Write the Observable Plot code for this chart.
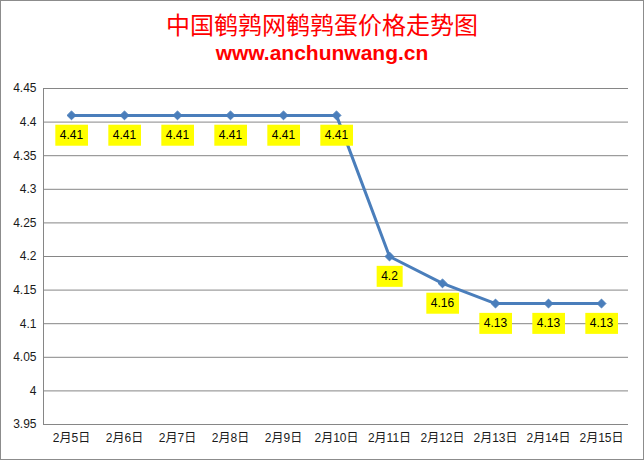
<!DOCTYPE html>
<html>
<head>
<meta charset="utf-8">
<script src="https://cdn.jsdelivr.net/npm/d3@7"></script>
<script src="https://cdn.jsdelivr.net/npm/@observablehq/plot@0.6"></script>
<style>
  html, body { margin: 0; padding: 0; background: #fff; }
  #box { position: relative; width: 644px; height: 460px; box-sizing: border-box; border: 1px solid #8c8c8c; background: #fff; overflow: hidden; }
  #title { position: absolute; left: 0; right: 0; top: 11px; text-align: center; color: #ff0000; font-family: "Noto Sans CJK SC", sans-serif; font-size: 24px; line-height: 24px; white-space: nowrap; }
  #sub { position: absolute; left: 0; right: 0; top: 40px; text-align: center; color: #ff0000; font-family: "Liberation Sans", Arial, sans-serif; font-weight: bold; font-size: 21px; line-height: 24px; white-space: nowrap; }
  #chart { position: absolute; left: 0; top: 79px; }
</style>
</head>
<body>
<div id="box">
  <div id="title">中国鹌鹑网鹌鹑蛋价格走势图</div>
  <div id="sub">www.anchunwang.cn</div>
  <div id="chart"></div>
</div>
<script>
const dates = ["2月5日","2月6日","2月7日","2月8日","2月9日","2月10日","2月11日","2月12日","2月13日","2月14日","2月15日"];
const prices = [4.41, 4.41, 4.41, 4.41, 4.41, 4.41, 4.2, 4.16, 4.13, 4.13, 4.13];
const yTicks = [3.95, 4, 4.05, 4.1, 4.15, 4.2, 4.25, 4.3, 4.35, 4.4, 4.45];

const data = dates.map((d, i) => ({date: d, price: prices[i]}));
const blue = "#4A7EBB";
const font = "'Liberation Sans', 'Noto Sans CJK SC', sans-serif";

const chart = Plot.plot({
  width: 642,
  height: 378,
  marginLeft: 42,
  marginRight: 15,
  marginTop: 8,
  marginBottom: 34,
  style: {fontFamily: font, fontSize: "12px", color: "#1a1a1a", background: "transparent"},
  x: {type: "point", domain: dates, padding: 0.5, label: null},
  y: {domain: [3.95, 4.45], label: null},
  marks: [
    Plot.gridY(yTicks, {stroke: "#868686", strokeOpacity: 1, strokeWidth: 1}),
    Plot.frame({anchor: "left", stroke: "#868686", strokeOpacity: 1}),
    Plot.axisY(yTicks, {tickSize: 0, tickPadding: 7, tickFormat: d => String(d), label: null, fontSize: 12}),
    Plot.axisX({tickSize: 0, tickPadding: 9, label: null, fontSize: 12}),
    Plot.line(data, {x: "date", y: "price", stroke: blue, strokeWidth: 3}),
    Plot.dot(data, {x: "date", y: "price", symbol: "diamond2", r: 4, fill: blue, stroke: blue, strokeWidth: 1}),
    Plot.text(data, {x: "date", y: "price", text: d => String(d.price), dy: 20, fontSize: 12, fill: "#000"})
  ]
});
document.getElementById("chart").appendChild(chart);

// yellow label boxes behind the data labels
chart.querySelectorAll('g[aria-label="text"] text').forEach(t => {
  const b = t.getBBox();
  const r = document.createElementNS("http://www.w3.org/2000/svg", "rect");
  r.setAttribute("x", b.x - 4.5);
  r.setAttribute("y", b.y - 3.5);
  r.setAttribute("width", b.width + 9);
  r.setAttribute("height", b.height + 7);
  r.setAttribute("fill", "#ffff00");
  const tr = t.getAttribute("transform");
  if (tr) r.setAttribute("transform", tr);
  t.parentNode.insertBefore(r, t);
});
</script>
</body>
</html>
